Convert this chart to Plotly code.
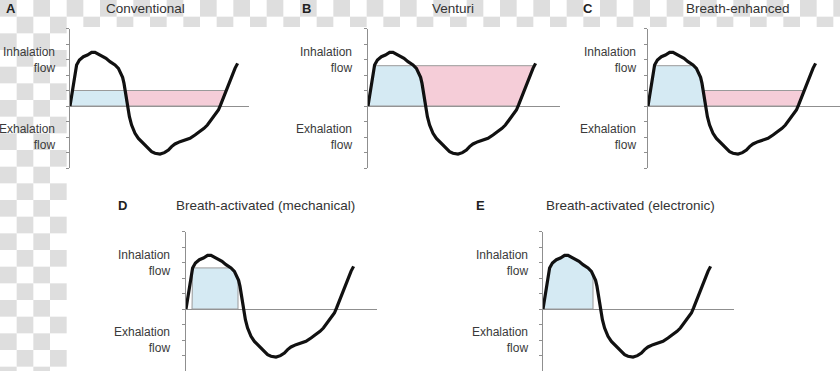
import numpy as np
import plotly.graph_objects as go

# ---------------- data ----------------
# shared breathing-flow trace (time in arbitrary units, flow in axis ticks)
CURVE_T = [0, 0.05, 0.13, 0.2, 0.25, 0.33, 0.47, 0.67, 0.87, 1.08,
           1.25, 1.42, 1.58, 1.8, 2.0, 2.25, 2.42, 2.53, 2.63, 2.7,
           2.75, 2.8, 2.83, 2.88, 2.97, 3.08, 3.25, 3.42, 3.58, 3.75,
           3.92, 4.08, 4.25, 4.5, 4.72, 4.92, 5.08, 5.25, 5.5, 5.75,
           6.0, 6.25, 6.5, 6.7, 6.87, 7.03, 7.25, 7.42, 7.53, 7.63,
           7.75, 7.88, 8.0, 8.13, 8.25, 8.38]
CURVE_FLOW = [0, 0.39, 1.03, 1.68, 2.22, 2.65, 2.97, 3.18, 3.29, 3.46,
              3.46, 3.36, 3.23, 3.08, 2.86, 2.65, 2.43, 2.15, 1.85, 1.46,
              1.03, 0.6, 0.17, -0.26, -0.69, -1.23, -1.76, -2.09, -2.3, -2.52,
              -2.73, -2.95, -3.05, -3.1, -3.01, -2.84, -2.62, -2.45, -2.3, -2.19,
              -2.09, -1.87, -1.66, -1.44, -1.23, -0.95, -0.58, -0.26, 0.07, 0.39,
              0.82, 1.25, 1.68, 2.0, 2.43, 2.75]

PANEL_LETTERS = ["A", "B", "C", "D", "E"]
PANEL_TITLES = ["Conventional", "Venturi", "Breath-enhanced",
                "Breath-activated (mechanical)", "Breath-activated (electronic)"]
# inhaled-dose (blue) region: height, start, end (None -> where flow returns to zero)
BLUE_HEIGHT = [1.0, 2.6, 2.6, 2.65, None]
BLUE_START = [0.0, 0.0, 0.0, 0.3, 0.0]
BLUE_END = [None, None, None, 2.6, 2.5]
# wasted-dose (pink) region height (None -> no pink region)
PINK_HEIGHT = [1.0, 2.6, 1.0, None, None]
Y_TICKS = list(range(-4, 6))
INHAL_LABEL = "Inhalation<br>flow"
EXHAL_LABEL = "Exhalation<br>flow"
INHAL_POS = 2.95
EXHAL_POS = -2.03

# ---------------- layout geometry (pixels) ----------------
W, H = 840, 371
UX, UY = 20.0, 15.5
AXIS_PX = [70, 368, 648, 186, 543]
END_PX = [249, 560, 840, 377, 734]
ZERO_PX = [106, 106, 106, 309, 309]
LABEL_GAP = [13, 14, 10, 14, 13]
LETTER_PX = [(11, 8), (306, 8), (588, 8), (122, 205), (481, 205)]
TITLE_PX = [(145, 8), (453, 8), (738, 8), (265, 205), (630, 205)]

BLUE = "#d5eaf3"
PINK = "#f5cdd8"
EDGE = "#9a9a9a"
AXC = "#8f8f8f"
CHECK = "#dedede"
FONT = "Liberation Sans, Arial, sans-serif"

T = np.array(CURVE_T, float)
F = np.array(CURVE_FLOW, float)
t_peak = T[np.argmax(F)]
t_min = T[np.argmin(F)]


def crossings(level):
    res = []
    for i in range(len(T) - 1):
        a, b = F[i] - level, F[i + 1] - level
        if a == 0:
            res.append(T[i])
        elif a * b < 0:
            res.append(T[i] + (T[i + 1] - T[i]) * a / (a - b))
    return res


def first_after(level, t0):
    for c in crossings(level):
        if c > t0:
            return c
    return T[-1]


def profile(x0, x1, lo, hi):
    xs = {x0, x1}
    xs |= {t for t in T if x0 < t < x1}
    for lev in (lo, hi):
        if np.isfinite(lev):
            xs |= {c for c in crossings(lev) if x0 < c < x1}
    xs = sorted(xs)
    ys = np.clip(np.interp(xs, T, F), lo, hi)
    return list(xs), list(ys)


fig = go.Figure()
layout = {}
annotations = []

for k in range(5):
    sfx = "" if k == 0 else str(k + 1)
    xa, ya = "x" + sfx, "y" + sfx

    # blue region
    bh = BLUE_HEIGHT[k] if BLUE_HEIGHT[k] is not None else np.inf
    x0 = BLUE_START[k]
    x1 = BLUE_END[k] if BLUE_END[k] is not None else first_after(0.0, t_peak)
    px_, py_ = profile(x0, x1, 0.0, bh)
    bx = [x0] + px_ + [x1, x0]
    by = [0.0] + py_ + [0.0, 0.0]
    fig.add_trace(go.Scatter(x=bx, y=by, mode="lines", fill="toself", fillcolor=BLUE,
                             line=dict(color=EDGE, width=1), xaxis=xa, yaxis=ya,
                             hoverinfo="skip", showlegend=False))

    # pink region
    if PINK_HEIGHT[k] is not None:
        ph = PINK_HEIGHT[k]
        x2 = first_after(ph, t_peak)
        x3 = first_after(ph, t_min)
        qx, qy = profile(x2, x3, 0.0, ph)
        kx = [x2, x3] + qx[::-1]
        ky = [ph, ph] + qy[::-1]
        fig.add_trace(go.Scatter(x=kx, y=ky, mode="lines", fill="toself", fillcolor=PINK,
                                 line=dict(color=EDGE, width=1), xaxis=xa, yaxis=ya,
                                 hoverinfo="skip", showlegend=False))

    # flow curve
    fig.add_trace(go.Scatter(x=CURVE_T, y=CURVE_FLOW, mode="lines",
                             line=dict(color="#111111", width=3.2),
                             xaxis=xa, yaxis=ya, hoverinfo="skip", showlegend=False))

    left = AXIS_PX[k] / W
    right = END_PX[k] / W
    top = 1 - (ZERO_PX[k] - 5 * UY) / H
    bot = 1 - (ZERO_PX[k] + 4 * UY) / H
    layout["xaxis" + sfx] = dict(domain=[left, right],
                                 range=[0, (END_PX[k] - AXIS_PX[k]) / UX],
                                 anchor=ya, showline=False, showgrid=False, zeroline=False,
                                 showticklabels=False, ticks="", fixedrange=True)
    layout["yaxis" + sfx] = dict(domain=[max(bot, 0), min(top, 1)], range=[-4, 5], anchor=xa,
                                 showline=True, linecolor=AXC, linewidth=1,
                                 ticks="outside", ticklen=3, tickcolor=AXC, tickwidth=1,
                                 tickvals=Y_TICKS, showticklabels=False, showgrid=False,
                                 zeroline=True, zerolinecolor=AXC, zerolinewidth=1,
                                 fixedrange=True)

    xd = xa + " domain"
    for txt, yv in ((INHAL_LABEL, INHAL_POS), (EXHAL_LABEL, EXHAL_POS)):
        annotations.append(dict(text=txt, xref=xd, yref=ya, x=0, y=yv,
                                xanchor="right", yanchor="middle", align="right",
                                xshift=-LABEL_GAP[k], showarrow=False,
                                font=dict(family=FONT, size=12, color="#3a3a3a")))
    lx, ly = LETTER_PX[k]
    annotations.append(dict(text="<b>%s</b>" % PANEL_LETTERS[k], xref="paper", yref="paper",
                            x=lx / W, y=1 - ly / H, xanchor="center", yanchor="middle",
                            showarrow=False, font=dict(family=FONT, size=13, color="#222222")))
    tx, ty = TITLE_PX[k]
    annotations.append(dict(text=PANEL_TITLES[k], xref="paper", yref="paper",
                            x=tx / W, y=1 - ty / H, xanchor="center", yanchor="middle",
                            showarrow=False, font=dict(family=FONT, size=13.5, color="#333333")))

# checkerboard backdrop (transparent-image look) on the top strip and left column
shapes = []
SQ = 50.0 / 3.0
STRIP_Y = 27.0
LEFT_X = 4 * SQ
for i in range(int(W / SQ) + 1):
    for j in range(int(H / SQ) + 1):
        if (i + j) % 2:
            continue
        xa0, xa1 = i * SQ, min((i + 1) * SQ, W)
        ya0, ya1 = j * SQ, min((j + 1) * SQ, H)
        if xa0 >= LEFT_X:
            if ya0 >= STRIP_Y:
                continue
            ya1 = min(ya1, STRIP_Y)
        shapes.append(dict(type="rect", xref="paper", yref="paper", layer="below",
                           x0=xa0 / W, x1=xa1 / W, y0=1 - ya1 / H, y1=1 - ya0 / H,
                           fillcolor=CHECK, line=dict(width=0)))

fig.update_layout(width=W, height=H, margin=dict(l=0, r=0, t=0, b=0),
                  paper_bgcolor="white", plot_bgcolor="rgba(0,0,0,0)",
                  showlegend=False, annotations=annotations, shapes=shapes,
                  font=dict(family=FONT), **layout)

fig.write_html("out.html", config={"displayModeBar": False},
               post_script="document.body.style.margin='0';document.body.style.padding='0';"
                           "document.documentElement.style.overflow='hidden';")
